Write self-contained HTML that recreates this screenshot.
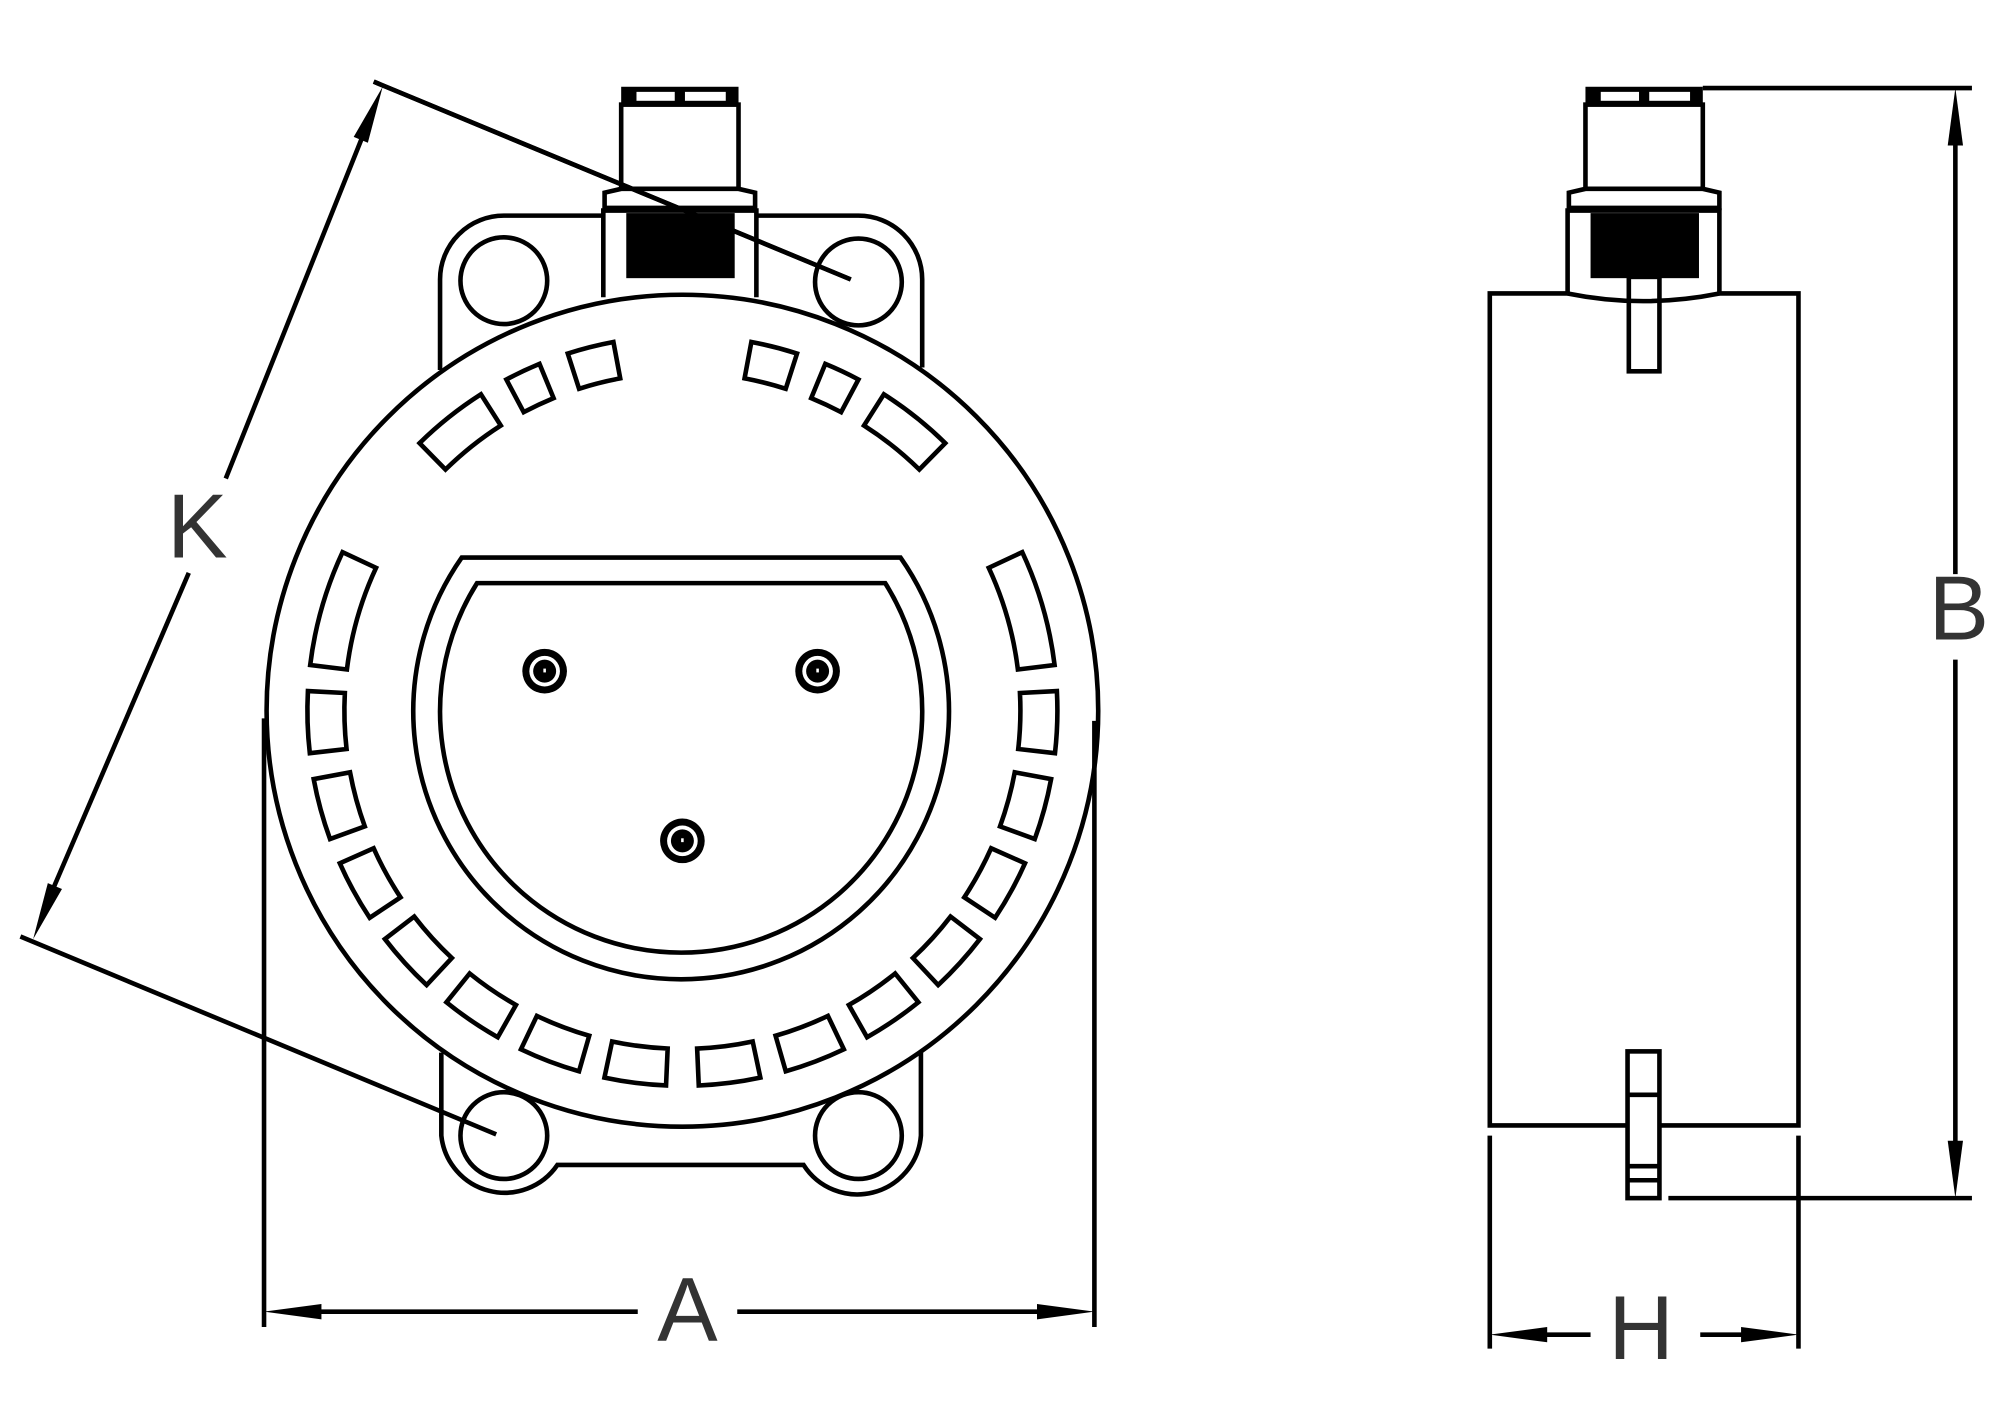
<!DOCTYPE html>
<html><head><meta charset="utf-8">
<style>
html,body{margin:0;padding:0;background:#fff;}
svg{display:block;}
text{font-family:"Liberation Sans",sans-serif;fill:#333;font-size:71px;}
</style></head>
<body>
<svg width="2000" height="1401" viewBox="0 0 1568 1098" preserveAspectRatio="none" xmlns="http://www.w3.org/2000/svg">
<defs>
<path id="s95" d="M294,0 A294,294 0 0 1 289.97,48.52 L261.37,43.74 A265,265 0 0 0 265,0 Z"/>
<path id="s18" d="M294,0 A294,294 0 0 1 279.61,90.85 L252.03,81.89 A265,265 0 0 0 265,0 Z"/>
<path id="s12" d="M294,0 A294,294 0 0 1 287.58,61.13 L259.21,55.10 A265,265 0 0 0 265,0 Z"/>
<path id="s56" d="M294,0 A294,294 0 0 1 292.60,28.69 L263.74,25.86 A265,265 0 0 0 265,0 Z"/>
<path id="s72" d="M294,0 A294,294 0 0 1 291.68,36.85 L262.91,33.21 A265,265 0 0 0 265,0 Z"/>
</defs>
<g fill="none" stroke="#000" stroke-width="3.6">
<path d="M345,290 L345,219 A50,50 0 0 1 395,169 L472,169"/>
<path d="M593,169 L673,169 A50,50 0 0 1 723,219 L723,288"/>
<circle cx="395" cy="220" r="34"/>
<circle cx="673" cy="221" r="34"/>
<path d="M346,825 L346,890 A50,50 0 0 0 437,913 L630,913 A50,50 0 0 0 722,890 L722,825"/>
<circle cx="395" cy="890" r="34"/>
<circle cx="673" cy="890" r="34"/>
<circle cx="535" cy="557" r="326" fill="#fff"/>
<path d="M362,437 L706,437 A210,210 0 1 1 362,437 Z"/>
<path d="M374,457 L694,457 A189,189 0 1 1 374,457 Z"/>
<g transform="translate(535,557)">
<use href="#s18" transform="rotate(-173)"/>
<use href="#s18" transform="rotate(-25)"/>
<use href="#s95" transform="rotate(-186.5)"/>
<use href="#s95" transform="rotate(-200)"/>
<use href="#s95" transform="rotate(-213.5)"/>
<use href="#s95" transform="rotate(-227)"/>
<use href="#s95" transform="rotate(-240.5)"/>
<use href="#s95" transform="rotate(-254)"/>
<use href="#s95" transform="rotate(-267.5)"/>
<use href="#s95" transform="rotate(-3)"/>
<use href="#s95" transform="rotate(10.5)"/>
<use href="#s95" transform="rotate(24)"/>
<use href="#s95" transform="rotate(37.5)"/>
<use href="#s95" transform="rotate(51)"/>
<use href="#s95" transform="rotate(64.5)"/>
<use href="#s95" transform="rotate(78)"/>
<use href="#s12" transform="rotate(-134.5)"/>
<use href="#s56" transform="rotate(-118)"/>
<use href="#s72" transform="rotate(-107.8)"/>
<use href="#s12" transform="rotate(-57.5)"/>
<use href="#s56" transform="rotate(-67.6)"/>
<use href="#s72" transform="rotate(-79.4)"/>
</g>
<rect x="487" y="82" width="92" height="66" fill="#fff"/>
<path d="M474,163 L474,151 L487,148 L579,148 L592,151 L592,163 Z" fill="#fff"/>
<path d="M473,233 L473,165 L593,165 L593,233"/>
<line x1="207" y1="563" x2="207" y2="1040"/>
<line x1="858" y1="565" x2="858" y2="1040"/>
<line x1="250" y1="1028" x2="500" y2="1028"/>
<line x1="578" y1="1028" x2="815" y2="1028"/>
<line x1="293" y1="64" x2="667" y2="219"/>
<line x1="16" y1="734" x2="389" y2="889"/>
<line x1="285" y1="105" x2="177" y2="375"/>
<line x1="148" y1="449" x2="41" y2="698"/>
<rect x="1243" y="82" width="92" height="66" fill="#fff"/>
<path d="M1230,163 L1230,151 L1243,148 L1335,148 L1348,151 L1348,163 Z" fill="#fff"/>
<path d="M1229,230 L1229,165 L1348,165 L1348,230"/>
<path d="M1229,230 Q1288,242 1348,230"/>
<rect x="1277" y="217" width="24" height="74"/>
<path d="M1229,230 L1168,230 L1168,882 L1410,882 L1410,230 L1348,230"/>
<rect x="1276" y="824" width="25" height="115" fill="#fff"/>
<line x1="1276" y1="858" x2="1301" y2="858"/>
<line x1="1276" y1="914" x2="1301" y2="914"/>
<line x1="1276" y1="925" x2="1301" y2="925"/>
<line x1="1335" y1="69" x2="1546" y2="69"/>
<line x1="1308" y1="939" x2="1546" y2="939"/>
<line x1="1533" y1="110" x2="1533" y2="450"/>
<line x1="1533" y1="517" x2="1533" y2="898"/>
<line x1="1168" y1="890" x2="1168" y2="1057"/>
<line x1="1410" y1="890" x2="1410" y2="1057"/>
<line x1="1210" y1="1046" x2="1247" y2="1046"/>
<line x1="1333" y1="1046" x2="1368" y2="1046"/>
</g>
<g fill="#000">
<rect x="487" y="68" width="92" height="15"/>
<rect x="1243" y="68" width="92" height="15"/>
<rect x="491" y="167" width="85" height="51"/>
<rect x="1247" y="167" width="85" height="51"/>
</g>
<g fill="#fff">
<rect x="499" y="72" width="30" height="7"/><rect x="537" y="72" width="32" height="7"/>
<rect x="1255" y="72" width="30" height="7"/><rect x="1293" y="72" width="32" height="7"/>
</g>
<line x1="293" y1="64" x2="667" y2="219" stroke="#000" stroke-width="3.6"/>
<g>
<circle cx="427" cy="526" r="17.5" fill="#000"/><circle cx="427" cy="526" r="12" fill="#fff"/><circle cx="427" cy="526" r="9" fill="#000"/><rect x="426" y="524" width="2" height="3" fill="#fff"/>
<circle cx="641" cy="526" r="17.5" fill="#000"/><circle cx="641" cy="526" r="12" fill="#fff"/><circle cx="641" cy="526" r="9" fill="#000"/><rect x="640" y="524" width="2" height="3" fill="#fff"/>
<circle cx="535" cy="659" r="17.5" fill="#000"/><circle cx="535" cy="659" r="12" fill="#fff"/><circle cx="535" cy="659" r="9" fill="#000"/><rect x="534" y="657" width="2" height="3" fill="#fff"/>
</g>
<g fill="#000">
<polygon points="207,1028 252,1022 252,1034"/>
<polygon points="858,1028 813,1022 813,1034"/>
<polygon points="1533,69 1527,114 1539,114"/>
<polygon points="1533,939 1527,894 1539,894"/>
<polygon points="1168,1046 1213,1040 1213,1052"/>
<polygon points="1410,1046 1365,1040 1365,1052"/>
<polygon points="300,68 288.4,111.9 277.3,107.3"/>
<polygon points="26,736 48.6,696.7 37.5,692.1"/>
</g>
<text x="539" y="1051" text-anchor="middle">A</text>
<text x="131" y="437">K</text>
<text x="1512" y="501">B</text>
<text x="1261" y="1065">H</text>
</svg>
</body></html>
